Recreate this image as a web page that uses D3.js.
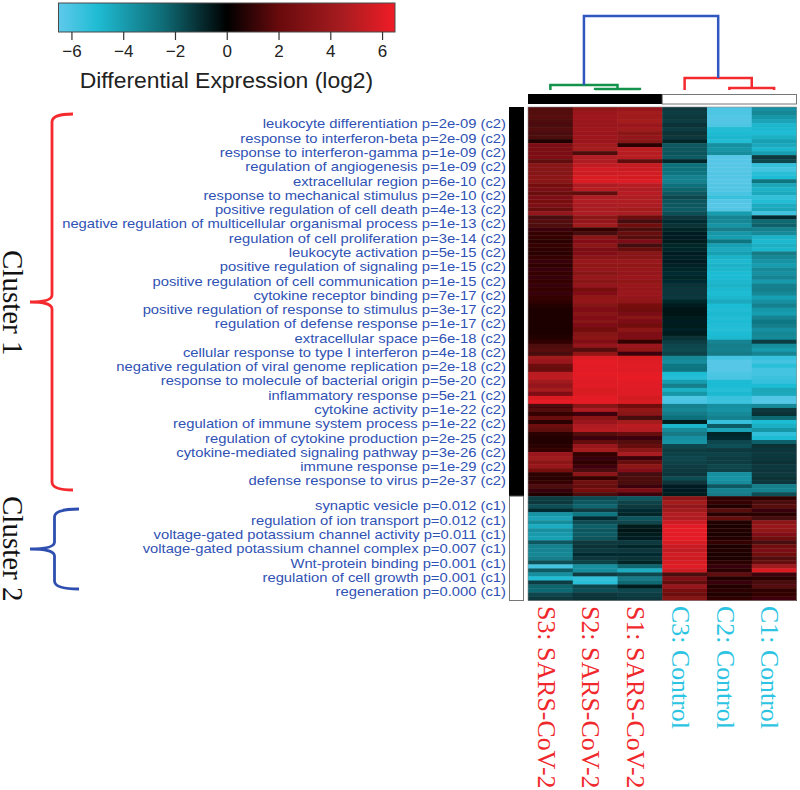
<!DOCTYPE html>
<html><head><meta charset="utf-8">
<script src="https://cdn.jsdelivr.net/npm/d3@7"></script>
<style>html,body{margin:0;padding:0;background:#fff}svg{display:block}</style></head>
<body><svg id="c" width="800" height="790"></svg>
<script>
const columns=["S3: SARS-CoV-2","S2: SARS-CoV-2","S1: SARS-CoV-2","C3: Control","C2: Control","C1: Control"];
const columnGroup=["s","s","s","c","c","c"];
const cluster1Terms=["leukocyte differentiation p=2e-09 (c2)","response to interferon-beta p=2e-09 (c2)","response to interferon-gamma p=1e-09 (c2)","regulation of angiogenesis p=1e-09 (c2)","extracellular region p=6e-10 (c2)","response to mechanical stimulus p=2e-10 (c2)","positive regulation of cell death p=4e-13 (c2)","negative regulation of multicellular organismal process p=1e-13 (c2)","regulation of cell proliferation p=3e-14 (c2)","leukocyte activation p=5e-15 (c2)","positive regulation of signaling p=1e-15 (c2)","positive regulation of cell communication p=1e-15 (c2)","cytokine receptor binding p=7e-17 (c2)","positive regulation of response to stimulus p=3e-17 (c2)","regulation of defense response p=1e-17 (c2)","extracellular space p=6e-18 (c2)","cellular response to type I interferon p=4e-18 (c2)","negative regulation of viral genome replication p=2e-18 (c2)","response to molecule of bacterial origin p=5e-20 (c2)","inflammatory response p=5e-21 (c2)","cytokine activity p=1e-22 (c2)","regulation of immune system process p=1e-22 (c2)","regulation of cytokine production p=2e-25 (c2)","cytokine-mediated signaling pathway p=3e-26 (c2)","immune response p=1e-29 (c2)","defense response to virus p=2e-37 (c2)"];
const cluster2Terms=["synaptic vesicle p=0.012 (c1)","regulation of ion transport p=0.012 (c1)","voltage-gated potassium channel activity p=0.011 (c1)","voltage-gated potassium channel complex p=0.007 (c1)","Wnt-protein binding p=0.001 (c1)","regulation of cell growth p=0.001 (c1)","regeneration p=0.000 (c1)"];
const colorStops=[-6.5,-5,-2.5,0,2,4.5,6.5];
const colorValues=["#5fc9ea","#1fbcd4","#0f6e78","#000000","#680a0c","#a81c20","#f01c26"];
const colorTicks=[-6,-4,-2,0,2,4,6];
const dendroMerges=[{a:1,b:2,h:1,color:"#12924a"},{a:0,b:"m0",h:5,color:"#12924a"},{a:4,b:5,h:2,color:"#f42a2e"},{a:3,b:"m2",h:12,color:"#f42a2e"},{a:"m1",b:"m3",h:74,color:"#3056c0"}];
const cluster1Rows=[
[1.6,3.6,3.9,-1.3,-6.1,-3.6],[1.6,4.0,4.3,-1.4,-6.1,-3.3],[1.7,4.1,4.2,-1.3,-6.2,-3.8],
[1.5,4.0,4.4,-1.4,-6.2,-4.2],[1.4,3.9,3.9,-1.1,-6.1,-4.8],[1.6,4.1,4.2,-1.4,-5.1,-4.9],[1.4,4.0,3.4,-1.1,-5.0,-5.0],
[1.5,4.1,3.7,-1.3,-4.8,-4.6],[0.7,4.0,3.3,-0.9,-5.1,-4.1],[2.8,4.2,0.8,-2.0,-3.6,-4.4],[2.8,4.4,5.0,-2.0,-3.8,-4.8],
[2.7,1.5,4.9,-1.9,-3.5,-4.0],[2.9,4.8,4.9,-2.1,-6.3,-1.3],[1.8,4.6,1.8,-0.9,-6.3,-1.6],[3.2,5.2,5.3,-2.6,-6.3,-5.5],
[3.2,5.6,5.4,-2.6,-6.3,-5.9],[3.1,5.5,5.6,-2.7,-6.2,-5.3],[3.4,5.8,5.7,-3.1,-6.2,-5.0],[3.3,5.9,6.0,-3.1,-6.3,-2.7],
[2.5,4.6,4.9,-2.6,-6.2,-4.3],[2.7,4.9,4.7,-2.3,-6.2,-4.7],[2.1,1.8,4.9,-2.0,-6.0,-4.4],[2.8,4.6,4.7,-1.6,-5.6,-5.4],
[2.6,4.7,4.7,-1.9,-6.2,-5.1],[2.9,4.5,4.6,-2.0,-6.3,-4.5],[2.1,4.5,4.3,-2.1,-6.2,-4.3],[3.7,4.6,4.5,-1.8,-4.0,-5.8],
[1.4,3.4,2.2,-1.2,-3.2,-1.0],[1.6,3.7,1.3,-1.0,-3.3,-2.4],[1.5,4.2,2.4,-1.1,-3.7,-2.2],[1.2,1.0,1.5,-0.9,-3.0,-3.1],[1.0,1.3,2.0,-0.7,-3.8,-3.4],
[1.0,3.3,1.7,-0.7,-4.0,-4.7],[0.8,3.0,2.8,-0.6,-2.7,-4.9],[1.0,3.4,1.3,-0.9,-4.1,-4.6],
[0.9,2.8,2.0,-0.9,-4.4,-4.8],[0.8,3.0,3.2,-0.7,-4.1,-2.9],[1.0,3.4,3.3,-0.8,-4.7,-3.3],
[1.1,3.8,3.9,-0.7,-4.9,-3.7],[0.9,3.6,3.6,-0.8,-4.7,-4.0],[1.1,3.7,3.8,-0.9,-4.8,-3.4],[1.0,3.2,3.7,-1.0,-5.0,-3.6],
[1.1,3.8,4.0,-0.9,-5.0,-3.2],[1.0,3.3,3.6,-1.0,-4.8,-3.9],[1.1,3.7,3.9,-1.1,-4.7,-3.1],[1.0,2.6,3.8,-1.2,-4.9,-3.0],
[1.1,3.0,4.0,-1.2,-5.0,-3.3],[1.0,3.6,3.7,-1.3,-4.8,-4.1],[0.9,3.7,3.5,-0.9,-4.4,-3.6],[0.7,3.1,2.6,-0.6,-5.0,-3.1],
[0.6,2.9,2.3,-0.5,-5.1,-3.8],[0.5,3.3,2.7,-0.5,-4.9,-4.0],[0.6,3.0,3.2,-0.6,-5.1,-3.2],[0.6,3.2,2.8,-0.7,-5.0,-2.8],
[0.5,2.8,2.4,-0.6,-5.1,-3.0],[0.6,2.4,3.4,-0.8,-5.2,-3.6],[0.6,3.1,2.9,-0.6,-5.0,-3.3],[0.7,3.4,2.9,-1.1,-4.9,-3.4],[0.9,3.0,1.0,-1.4,-3.2,-1.4],
[1.5,3.7,4.0,-1.6,-3.0,-3.5],[1.7,1.6,3.6,-1.7,-3.1,-3.9],[1.4,3.6,1.2,-1.5,-2.9,-3.2],[4.2,6.0,5.9,-3.3,-5.9,-5.6],
[3.9,6.2,6.0,-3.5,-6.3,-5.9],[2.2,6.1,6.1,-2.8,-6.3,-5.3],[2.0,6.1,6.0,-2.7,-6.3,-5.9],
[5.0,6.2,6.2,-5.0,-6.1,-5.9],[5.1,6.1,6.3,-5.2,-6.0,-5.7],[4.2,6.0,6.1,-4.0,-5.0,-5.5],[3.7,6.1,6.1,-3.0,-5.0,-5.0],
[4.4,5.8,6.0,-4.6,-5.2,-4.3],[2.9,5.9,6.0,-3.8,-4.9,-4.4],[5.9,6.2,5.7,-6.1,-5.6,-6.2],
[6.2,6.2,5.9,-6.0,-5.7,-6.3],[1.4,3.3,2.4,-3.1,-3.6,-3.4],[1.6,4.6,3.6,-3.3,-3.7,-1.3],[1.0,1.2,3.2,-2.9,-3.4,-1.1],
[2.1,3.4,1.3,-2.6,-3.1,-2.4],[0.8,4.0,4.4,-0.6,-5.6,-5.0],[2.2,4.7,5.0,-4.8,-2.1,-4.6],[1.8,4.9,4.8,-3.4,-4.2,-3.8],
[0.8,1.6,2.0,-2.9,-0.9,-5.4],[0.7,1.2,1.2,-3.6,-1.0,-5.0],[0.7,1.9,1.6,-3.7,-1.6,-2.2],[0.8,3.9,2.0,-1.6,-1.8,-1.1],
[1.0,4.4,3.3,-1.4,-1.3,-1.2],[4.0,1.0,4.5,-1.5,-1.5,-1.3],[4.2,1.1,1.2,-1.6,-1.4,-1.2],[3.4,0.9,2.0,-1.5,-1.4,-1.1],
[3.9,1.2,3.4,-1.4,-1.6,-1.3],[2.6,1.4,3.0,-1.3,-1.5,-1.2],[0.9,3.4,1.3,-1.2,-3.6,-1.3],[0.8,1.0,1.5,-1.7,-3.7,-1.1],
[1.0,2.3,1.4,-1.2,-3.5,-1.2],[1.5,2.0,1.2,-0.7,-2.0,-3.0],[1.1,2.6,2.7,-0.7,-3.1,-3.1],[0.7,1.5,1.2,-0.6,-2.9,-1.8]
];
const cluster2Rows=[
[-1.4,-1.7,-2.0,3.4,0.9,0.9],[-1.3,-2.0,-1.5,4.3,1.0,1.4],[-1.8,-2.3,-1.3,3.7,0.7,1.7],[-1.0,-1.4,-1.0,4.2,1.7,1.1],
[-3.7,-2.8,-0.9,4.8,0.8,0.8],[-4.2,-1.0,-1.9,4.7,1.9,1.3],[-3.5,-1.7,-1.6,5.5,0.7,3.4],[-4.5,-2.2,-0.6,6.1,0.6,3.8],
[-3.6,-2.0,-0.5,6.2,0.7,3.6],[-3.9,-2.1,-0.6,6.1,0.5,3.0],[-4.1,-1.9,-0.7,6.2,0.7,2.2],[-2.0,-1.3,-1.3,5.8,1.0,1.4],
[-3.1,-1.1,-0.9,5.4,0.6,2.3],[-3.2,-1.3,-1.2,5.2,0.7,2.7],[-3.3,-1.0,-1.0,5.6,0.5,2.4],[-3.0,-1.2,-1.1,5.5,0.6,1.6],[-1.8,-1.5,-0.9,5.8,0.8,2.0],
[-5.9,-3.6,-2.3,6.0,1.1,4.2],[-2.1,-3.5,-4.5,5.5,0.8,5.9],[-3.6,-1.4,-1.6,1.4,1.8,1.2],[-5.1,-5.4,-2.9,2.9,0.7,0.8],
[-1.4,-5.3,-2.4,1.9,1.1,1.4],[-2.3,-1.6,-0.6,3.8,0.7,1.6],[-2.4,-1.8,-1.6,2.6,0.8,0.9],[-1.6,-1.2,-1.4,2.2,0.7,1.0],[-1.3,-1.1,-1.2,3.1,0.9,1.2]
];
const heat=cluster1Rows.concat(cluster2Rows);

const svg=d3.select("#c");
const blue="#2f52b4", sans="'Liberation Sans',Arial,sans-serif", serif="'Liberation Serif','Times New Roman',serif";
const color=d3.scaleLinear().domain(colorStops).range(colorValues).clamp(true);
const defs=svg.append("defs");
defs.append("filter").attr("id","soft").attr("x","-2%").attr("y","-2%").attr("width","104%").attr("height","104%")
  .append("feGaussianBlur").attr("stdDeviation","0.45");

/* colour key */
const keyX=d3.scaleLinear().domain([-6.5,6.5]).range([58.5,395]);
const grad=defs.append("linearGradient").attr("id","key");
colorStops.forEach((s,i)=>grad.append("stop").attr("offset",(s+6.5)/13).attr("stop-color",colorValues[i]));
svg.append("rect").attr("x",keyX(-6.5)).attr("y",3).attr("width",keyX(6.5)-keyX(-6.5)).attr("height",29)
  .attr("fill","url(#key)").attr("stroke","#4a4a4a").attr("stroke-width",1);
const keyAxis=svg.append("g").attr("transform","translate(0,32)").call(d3.axisBottom(keyX).tickValues(colorTicks).tickSize(8).tickPadding(5).tickFormat(d=>d<0?"\u2212"+(-d):d));
keyAxis.select(".domain").remove();
keyAxis.selectAll("line").attr("stroke","#333").attr("stroke-width",1.2);
keyAxis.selectAll("text").attr("font-family",sans).attr("font-size",17).attr("fill","#222");
svg.append("text").attr("x",226.5).attr("y",88).attr("text-anchor","middle").attr("font-family",sans).attr("font-size",22.9).attr("fill","#222").text("Differential Expression (log2)");

/* heat map */
const hx=d3.scaleBand().domain(d3.range(columns.length)).range([528,796.5]);
const hy=d3.scaleBand().domain(d3.range(heat.length)).range([107,600.5]);
const hm=svg.append("g").attr("filter","url(#soft)");
heat.forEach((row,i)=>row.forEach((v,j)=>{
  hm.append("rect").attr("x",hx(j)).attr("y",hy(i)).attr("width",hx.bandwidth()+.4).attr("height",hy.bandwidth()+.4).attr("fill",color(v));
}));
svg.append("rect").attr("x",528).attr("y",107).attr("width",268.5).attr("height",493.5).attr("fill","none").attr("stroke","#8a8a8a").attr("stroke-width",.6);

/* column side bar */
const grpW=hx.bandwidth()*3;
svg.append("rect").attr("x",528).attr("y",94).attr("width",grpW).attr("height",10).attr("fill","#000");
svg.append("rect").attr("x",528+grpW).attr("y",94.5).attr("width",grpW).attr("height",9.5).attr("fill","#fff").attr("stroke","#777").attr("stroke-width",1);

/* row side bar */
const split=hy(cluster1Rows.length);
svg.append("rect").attr("x",509).attr("y",107).attr("width",15).attr("height",split-107).attr("fill","#000");
svg.append("rect").attr("x",509.5).attr("y",split).attr("width",14).attr("height",600.5-split).attr("fill","#fff").attr("stroke","#777").attr("stroke-width",1);

/* dendrogram */
const dy=d3.scaleLinear().domain([0,74]).range([90,16]);
const nodes={};
const pos=k=>typeof k==="number"?{x:hx(k)+hx.bandwidth()/2,h:0}:nodes[k];
dendroMerges.forEach((m,i)=>{
  const a=pos(m.a),b=pos(m.b);
  nodes["m"+i]={x:(a.x+b.x)/2,h:m.h};
  const p=d3.path();p.moveTo(a.x,dy(a.h));p.lineTo(a.x,dy(m.h));p.lineTo(b.x,dy(m.h));p.lineTo(b.x,dy(b.h));
  svg.append("path").attr("d",p.toString()).attr("fill","none").attr("stroke",m.color).attr("stroke-width",2.5);
});

/* term labels: the reference type is slightly wider than it is tall */
const termY=d3.scalePoint().domain(cluster1Terms).range([124,481]);
const termY2=d3.scalePoint().domain(cluster2Terms).range([506,592]);
const lab=svg.append("g").attr("font-family",sans).attr("font-size",12.7).attr("fill",blue).attr("text-anchor","end");
cluster1Terms.forEach(t=>lab.append("text").attr("transform",`translate(506,${termY(t)}) scale(1.165,1)`).attr("dy","0.35em").text(t));
cluster2Terms.forEach(t=>lab.append("text").attr("transform",`translate(506,${termY2(t)}) scale(1.165,1)`).attr("dy","0.35em").text(t));

/* column labels */
columns.forEach((c,j)=>{
  svg.append("text").attr("transform",`translate(${hx(j)+9.5},606) rotate(90)`).attr("font-family",serif).attr("font-size",25.9)
    .attr("fill",columnGroup[j]==="s"?"#f0282c":"#2cc4e2").text(c);
});

/* cluster braces and titles */
function brace(tipX,spineX,endX,top,bottom,col){
  const mid=(top+bottom)/2; const p=d3.path();
  p.moveTo(endX,top);p.quadraticCurveTo(spineX,top,spineX,top+8);
  p.lineTo(spineX,mid-7);p.quadraticCurveTo(spineX,mid,tipX,mid);
  p.quadraticCurveTo(spineX,mid,spineX,mid+7);
  p.lineTo(spineX,bottom-8);p.quadraticCurveTo(spineX,bottom,endX,bottom);
  svg.append("path").attr("d",p.toString()).attr("fill","none").attr("stroke",col).attr("stroke-width",2.8);
}
brace(30,52,73,114,490,"#f42a2e");
brace(30,54.5,79,509,589,"#2f4fb0");
[["Cluster 1",250],["Cluster 2",496]].forEach(([t,y])=>{
  svg.append("text").attr("transform",`translate(3,${y}) rotate(90)`).attr("font-family",serif).attr("font-size",29).attr("fill","#111").text(t);
});
</script></body></html>
